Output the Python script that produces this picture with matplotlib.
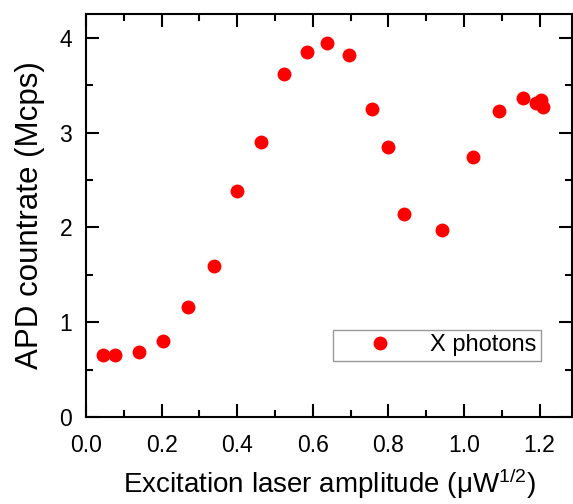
import matplotlib
matplotlib.use("Agg")
import matplotlib.pyplot as plt
from matplotlib.ticker import MultipleLocator, FormatStrFormatter

plt.rcParams['font.family'] = ['Liberation Sans', 'DejaVu Sans']
plt.rcParams['mathtext.default'] = 'regular'

# excitation amplitude (uW^1/2) and APD countrate (Mcps)
amplitude = [0.045, 0.077, 0.141, 0.204, 0.271, 0.338, 0.400, 0.462, 0.525,
             0.585, 0.638, 0.696, 0.756, 0.799, 0.840, 0.942, 1.023, 1.093,
             1.156, 1.191, 1.203, 1.208]
countrate = [0.65, 0.65, 0.69, 0.80, 1.16, 1.59, 2.39, 2.90, 3.62,
             3.85, 3.95, 3.82, 3.25, 2.85, 2.14, 1.97, 2.74, 3.23,
             3.37, 3.31, 3.35, 3.27]

fig = plt.figure(figsize=(5.73, 5.04), dpi=100)
ax = fig.add_axes([86/573, 87/504, 486/573, 403/504])

ax.plot(amplitude, countrate, 'o', color='red', markersize=10,
        markeredgewidth=0, label='X photons')

ax.set_xlim(0, 486/378)
ax.set_ylim(0, 403/94.75)
ax.xaxis.set_major_locator(MultipleLocator(0.2))
ax.xaxis.set_minor_locator(MultipleLocator(0.1))
ax.yaxis.set_major_locator(MultipleLocator(1))
ax.yaxis.set_minor_locator(MultipleLocator(0.5))
ax.xaxis.set_major_formatter(FormatStrFormatter('%.1f'))

ax.tick_params(which='both', direction='in', top=True, right=True,
               width=1.5, labelsize=16.5)
ax.tick_params(which='major', length=9.5)
ax.tick_params(which='minor', length=5)
ax.tick_params(axis='x', pad=12)
ax.tick_params(axis='y', pad=10)
for s in ax.spines.values():
    s.set_linewidth(1.5)

ax.set_xlabel('Excitation laser amplitude (μW$^{1/2}$)', fontsize=20, labelpad=7)
ax.set_ylabel('APD countrate (Mcps)', fontsize=22.5, labelpad=10)

# legend box right edge at x~541 px, bottom at y~361 px
leg = ax.legend(loc='lower right', bbox_to_anchor=((541 - 86)/486, (417 - 361)/403),
                fontsize=17, frameon=True, fancybox=False, borderpad=0.2,
                handlelength=3.6, handletextpad=0.3, borderaxespad=0)
leg.get_frame().set_edgecolor('gray')
leg.get_frame().set_linewidth(1)

fig.savefig('out.png', dpi=100)
